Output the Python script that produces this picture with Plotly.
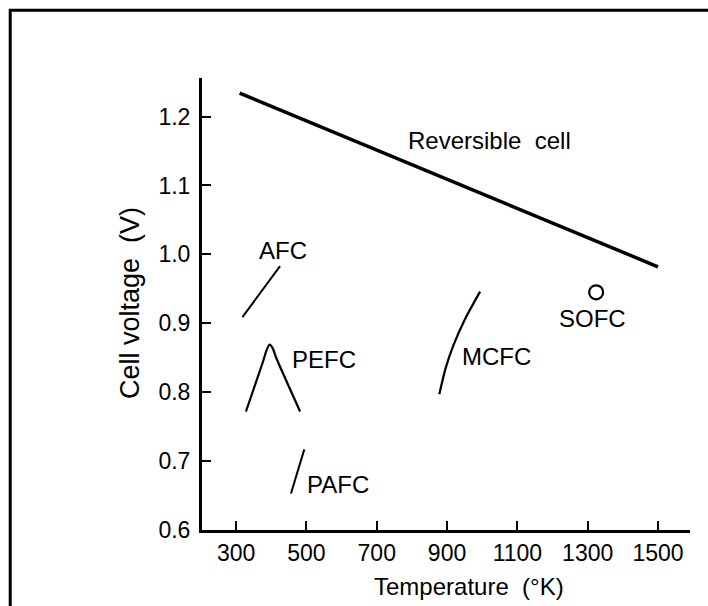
import plotly.graph_objects as go

# ---- data ----
rev_T = [310, 1500]
rev_V = [1.234, 0.982]

afc_T = [318, 425]
afc_V = [0.909, 0.983]

pefc_T = [328, 375, 386, 395, 404, 414, 482]
pefc_V = [0.772, 0.842, 0.860, 0.869, 0.864, 0.850, 0.772]

mcfc_T = [878, 896, 918, 952, 994]
mcfc_V = [0.797, 0.835, 0.868, 0.907, 0.946]

pafc_T = [456, 494]
pafc_V = [0.653, 0.717]

sofc_T = [1324]
sofc_V = [0.945]

label_text = ["Reversible\u00a0\u00a0cell", "AFC", "PEFC", "MCFC", "SOFC", "PAFC"]
label_T = [1020, 434, 549, 1041, 1315, 589]
label_V = [1.165, 1.005, 0.847, 0.852, 0.907, 0.666]

x_ticks = [300, 500, 700, 900, 1100, 1300, 1500]
y_ticks = [0.6, 0.7, 0.8, 0.9, 1.0, 1.1, 1.2]
y_tick_text = ["0.6", "0.7", "0.8", "0.9", "1.0", "1.1", "1.2"]

FONT = "Liberation Sans, Arial, sans-serif"

fig = go.Figure()

fig.add_trace(go.Scatter(x=rev_T, y=rev_V, mode="lines",
                         line=dict(color="black", width=3.5), hoverinfo="skip"))
fig.add_trace(go.Scatter(x=afc_T, y=afc_V, mode="lines",
                         line=dict(color="black", width=2), hoverinfo="skip"))
fig.add_trace(go.Scatter(x=pefc_T, y=pefc_V, mode="lines",
                         line=dict(color="black", width=2.2, shape="spline", smoothing=0.6),
                         hoverinfo="skip"))
fig.add_trace(go.Scatter(x=mcfc_T, y=mcfc_V, mode="lines",
                         line=dict(color="black", width=2.2, shape="spline", smoothing=0.8),
                         hoverinfo="skip"))
fig.add_trace(go.Scatter(x=pafc_T, y=pafc_V, mode="lines",
                         line=dict(color="black", width=2), hoverinfo="skip"))
fig.add_trace(go.Scatter(x=sofc_T, y=sofc_V, mode="markers",
                         marker=dict(symbol="circle-open", size=14, color="black",
                                     line=dict(color="black", width=2.2)),
                         hoverinfo="skip"))

for t, xv, yv in zip(label_text, label_T, label_V):
    fig.add_annotation(x=xv, y=yv, text=t, showarrow=False,
                       xanchor="center", yanchor="middle",
                       font=dict(family=FONT, size=24, color="black"))

# axis titles
fig.add_annotation(xref="paper", yref="paper", x=-0.1475, y=0.502,
                   xanchor="center", yanchor="middle",
                   text="Cell voltage\u00a0\u00a0(V)", textangle=-90, showarrow=False,
                   font=dict(family=FONT, size=27, color="black"))
fig.add_annotation(xref="paper", yref="paper", x=0.547, y=-0.126,
                   xanchor="center", yanchor="middle",
                   text="Temperature\u00a0\u00a0(\u00b0K)", showarrow=False,
                   font=dict(family=FONT, size=24, color="black"))

# outer frame of the picture (cut off at right and bottom)
fig.add_shape(type="rect", xref="paper", yref="paper",
              x0=-0.393, x1=1.08, y0=-0.22, y1=1.150,
              line=dict(color="black", width=3), fillcolor="rgba(0,0,0,0)")

fig.update_xaxes(range=[203, 1591], tickvals=x_ticks, ticks="inside", ticklen=9,
                 tickwidth=2, tickcolor="black", showline=True, linecolor="black",
                 linewidth=3, showgrid=False, zeroline=False, ticklabelstandoff=0,
                 tickfont=dict(family=FONT, size=23, color="black"))
fig.update_yaxes(range=[0.6, 1.256], tickvals=y_ticks, ticktext=y_tick_text,
                 ticks="inside", ticklen=9, tickwidth=2, tickcolor="black",
                 showline=True, linecolor="black", linewidth=3, showgrid=False,
                 zeroline=False, ticklabelstandoff=4,
                 tickfont=dict(family=FONT, size=23, color="black"))

fig.update_layout(width=708, height=606, showlegend=False,
                  margin=dict(l=202, r=18, t=78, b=76, autoexpand=False),
                  paper_bgcolor="white", plot_bgcolor="white")

fig.write_html("out.html", config={"displayModeBar": False},
               post_script="document.body.style.margin='0px';document.body.style.padding='0px';")
